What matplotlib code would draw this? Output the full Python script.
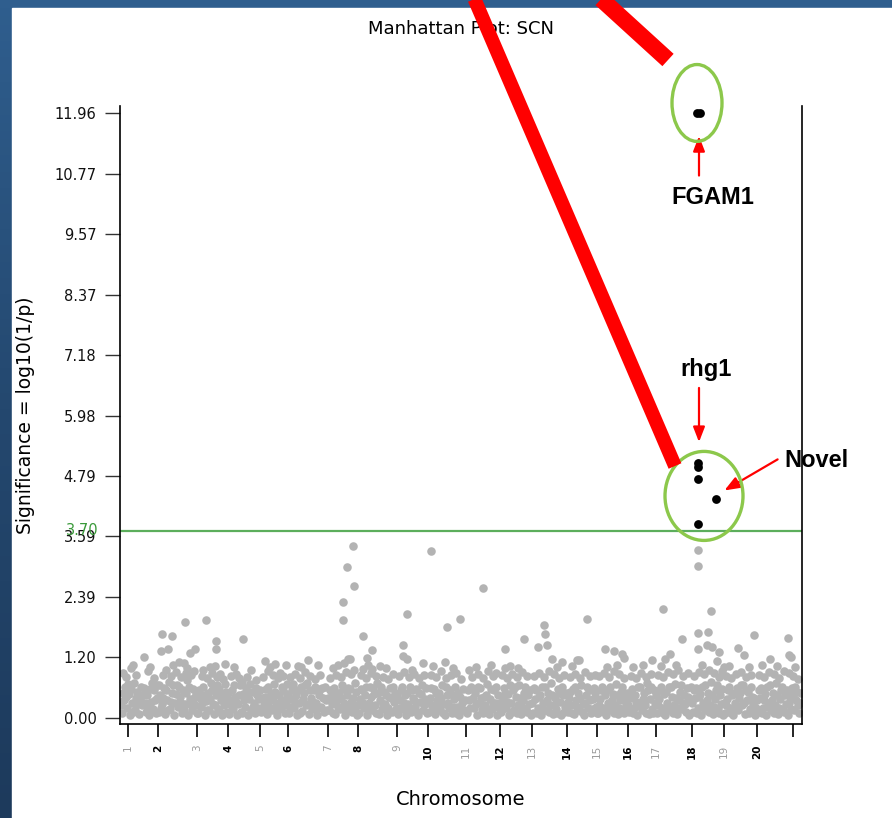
import numpy as np
import matplotlib.pyplot as plt
from matplotlib.patches import Ellipse, Rectangle
from matplotlib.lines import Line2D
from matplotlib.colors import LinearSegmentedColormap

# chromosome tick marks (genome position index), last one = end of chr 20
chrom_labels = [str(i) for i in range(1, 21)] + ['']
chrom_ticks = [8, 38, 77, 108, 140, 168, 208, 238, 277, 308, 346,
               380, 412, 447, 477, 508, 536, 572, 604, 637, 673]

y_ticks = [0.0, 1.196, 2.392, 3.588, 4.784, 5.98, 7.176, 8.372, 9.568, 10.764, 11.96]
y_labels = ['0.00', '1.20', '2.39', '3.59', '4.79', '5.98', '7.18', '8.37', '9.57', '10.77', '11.96']
threshold = 3.70

# (position, -log10 p) for the non significant markers, per chromosome
c01 = [(2, .10), (4, .35), (5, .62), (7, .20), (9, .48), (10, .05), (12, .30), (14, .70), (15, .15),
       (17, .52), (19, .08), (20, .38), (22, .25), (24, .60), (26, .12), (27, .45), (29, .05), (31, .32),
       (33, .18), (34, .55), (36, .10), (37, .40), (3, .88), (6, .80), (11, .98), (16, .85), (24, 1.21),
       (28, .92), (34, .78), (1, .25), (3, .50), (6, .42), (8, .68), (11, .58), (13, .12), (16, .40),
       (18, .28), (21, .62), (23, .45), (25, .30), (28, .20), (30, .58), (32, .70), (35, .35), (37, .65),
       (13, 1.05), (30, 1.00)]
c02 = [(39, .12), (40, .45), (42, .28), (44, .60), (45, .08), (47, .35), (49, .72), (50, .18), (52, .50),
       (54, .05), (55, .30), (57, .65), (58, .22), (60, .42), (62, .10), (63, .55), (65, .28), (67, .75),
       (68, .05), (70, .38), (72, .15), (73, .58), (75, .25), (76, .48), (43, .85), (46, .95), (51, .82),
       (56, .90), (61, .80), (66, .88), (71, .84), (74, .92), (41, 1.33), (42, 1.66), (48, 1.37),
       (52, 1.62), (65, 1.89), (64, 1.09), (67, .98), (70, 1.28), (75, 1.36), (39, .65), (41, .20),
       (43, .40), (46, .55), (48, .15), (51, .32), (53, .65), (56, .48), (59, .62), (61, .30), (64, .15),
       (66, .50), (69, .62), (71, .25), (74, .40), (77, .10), (53, 1.05), (59, 1.10)]
c03 = [(78, .10), (80, .40), (81, .22), (83, .62), (85, .05), (86, .33), (88, .50), (89, .15), (91, .70),
       (93, .28), (94, .08), (96, .45), (98, .18), (99, .58), (101, .35), (102, .05), (104, .25),
       (106, .52), (107, .12), (82, .82), (87, .78), (92, .88), (97, .80), (100, .86), (103, .76),
       (86, 1.94), (83, .95), (90, 1.00), (96, 1.53), (96, 1.37), (105, 1.07), (79, .55), (82, .30),
       (84, .45), (87, .15), (90, .38), (92, .55), (95, .25), (97, .65), (100, .12), (103, .48),
       (105, .68), (107, .40), (95, 1.02)]
c04 = [(109, .08), (110, .35), (112, .55), (113, .18), (115, .42), (117, .05), (118, .28), (120, .65),
       (121, .12), (123, .48), (125, .22), (126, .60), (128, .05), (129, .38), (131, .15), (132, .52),
       (134, .30), (135, .10), (137, .45), (138, .20), (111, .82), (116, .86), (119, .78), (122, .72),
       (127, .80), (136, .75), (123, 1.57), (108, .50), (111, .25), (114, .65), (116, .32), (119, .45),
       (122, .10), (124, .35), (127, .50), (130, .68), (133, .22), (136, .60), (139, .38), (114, 1.00),
       (131, .95)]
c05 = [(141, .12), (142, .40), (144, .25), (146, .58), (147, .08), (149, .33), (151, .50), (152, .15),
       (154, .68), (156, .28), (157, .05), (159, .45), (161, .20), (162, .62), (164, .35), (165, .10),
       (167, .48), (143, .80), (148, .92), (153, .85), (158, .78), (160, .88), (163, .82), (145, 1.12),
       (155, 1.07), (166, 1.05), (140, .55), (143, .18), (145, .42), (148, .62), (150, .20), (153, .40),
       (155, .52), (158, .15), (160, .32), (163, .55), (166, .25), (167, .68), (150, 1.00)]
c06 = [(169, .10), (171, .38), (172, .55), (174, .20), (176, .45), (177, .05), (179, .30), (181, .62),
       (182, .14), (184, .50), (186, .25), (187, .70), (189, .08), (191, .40), (192, .18), (194, .55),
       (196, .30), (197, .05), (199, .45), (201, .22), (202, .60), (204, .12), (206, .35), (170, .80),
       (175, .86), (180, .78), (185, .90), (190, .82), (195, .76), (200, .84), (181, 1.00), (188, 1.15),
       (168, .45), (170, .22), (173, .68), (175, .32), (178, .55), (180, .10), (183, .38), (185, .65),
       (188, .28), (190, .55), (193, .32), (195, .62), (198, .20), (200, .58), (203, .40), (205, .62),
       (207, .15), (178, 1.02), (198, 1.05)]
c07 = [(209, .15), (211, .42), (212, .28), (214, .60), (215, .08), (217, .35), (219, .50), (220, .18),
       (222, .65), (224, .30), (225, .05), (227, .45), (229, .22), (230, .58), (232, .12), (233, .40),
       (235, .70), (236, .25), (237, .05), (210, .78), (216, .84), (221, .80), (226, .90), (231, .86),
       (234, .95), (233, 3.40), (227, 2.98), (234, 2.60), (223, 2.30), (223, 1.94), (228, 1.16),
       (224, 1.08), (230, 1.16), (208, .40), (210, .55), (213, .10), (216, .50), (218, .22), (221, .40),
       (223, .58), (226, .15), (228, .60), (231, .32), (234, .18), (236, .52), (213, .98), (218, 1.05)]
c08 = [(239, .10), (240, .38), (242, .55), (244, .20), (245, .45), (247, .05), (249, .30), (250, .62),
       (252, .15), (254, .48), (255, .25), (257, .70), (259, .08), (260, .35), (262, .18), (264, .52),
       (265, .28), (267, .05), (269, .42), (270, .60), (272, .12), (274, .32), (275, .50), (241, .84),
       (246, .78), (251, .88), (256, .82), (263, .80), (268, .76), (273, .86), (243, 1.62), (252, 1.34),
       (247, 1.18), (260, 1.02), (243, .96), (252, .97), (238, .25), (241, .58), (243, .30), (246, .62),
       (248, .15), (251, .42), (253, .60), (256, .10), (258, .50), (261, .62), (263, .28), (266, .45),
       (268, .20), (271, .40), (273, .62), (276, .18), (248, 1.05), (266, .98)]
c09 = [(278, .08), (280, .35), (281, .55), (283, .18), (285, .45), (286, .05), (288, .28), (290, .62),
       (291, .12), (293, .40), (295, .22), (296, .58), (298, .05), (300, .32), (301, .48), (303, .15),
       (305, .38), (306, .60), (279, .82), (284, .90), (289, .80), (294, .86), (299, .78), (304, .84),
       (287, 2.06), (283, 1.44), (283, 1.23), (287, 1.16), (303, 1.08), (277, .45), (279, .20),
       (282, .62), (284, .30), (287, .50), (289, .15), (292, .55), (294, .35), (297, .12), (299, .50),
       (302, .65), (304, .25), (307, .10), (292, .95)]
c10 = [(309, .12), (310, .40), (312, .25), (314, .58), (315, .08), (317, .35), (319, .50), (320, .15),
       (322, .65), (324, .28), (325, .05), (327, .45), (329, .20), (330, .55), (332, .10), (334, .38),
       (335, .62), (337, .22), (339, .05), (340, .42), (342, .30), (344, .15), (311, .85), (316, .80),
       (321, .92), (326, .78), (331, .84), (336, .88), (341, .76), (311, 3.31), (327, 1.79), (325, 1.11),
       (340, 1.96), (308, .30), (311, .60), (313, .18), (316, .50), (318, .25), (321, .40), (323, .10),
       (326, .62), (328, .30), (331, .48), (333, .22), (336, .10), (338, .50), (341, .15), (343, .58),
       (345, .35), (313, 1.02), (333, .98)]
c11 = [(347, .10), (349, .35), (354, .20), (355, .50), (357, .05), (359, .30), (360, .60), (362, .15),
       (364, .42), (365, .25), (367, .68), (369, .08), (370, .38), (372, .18), (374, .55), (375, .30),
       (377, .05), (378, .45), (352, .80), (358, .86), (363, .78), (368, .92), (373, .82), (376, .88),
       (349, .94), (363, 2.56), (348, .55), (350, .20), (351, .62), (353, .40), (356, .28), (358, .62),
       (361, .40), (363, .10), (366, .45), (368, .18), (371, .58), (373, .30), (376, .62), (379, .20),
       (356, 1.00), (371, 1.05)]
c12 = [(381, .12), (383, .40), (384, .60), (386, .20), (388, .48), (389, .05), (391, .30), (393, .55),
       (394, .15), (396, .42), (398, .25), (399, .65), (401, .08), (403, .35), (404, .50), (406, .18),
       (408, .45), (409, .28), (411, .05), (382, .84), (387, .78), (392, .86), (397, .80), (402, .90),
       (407, .82), (385, 1.36), (385, .99), (398, .99), (404, 1.57), (380, .30), (382, .18), (385, .50),
       (387, .32), (390, .65), (392, .12), (395, .62), (397, .10), (400, .40), (402, .22), (405, .62),
       (407, .12), (410, .55), (390, 1.02)]
c13 = [(413, .10), (415, .38), (416, .55), (418, .20), (420, .45), (421, .05), (423, .30), (425, .62),
       (426, .15), (428, .50), (430, .25), (431, .70), (433, .08), (435, .40), (436, .18), (438, .58),
       (440, .32), (441, .05), (443, .45), (445, .22), (414, .82), (419, .88), (424, .80), (429, .92),
       (434, .86), (439, .78), (444, .84), (418, 1.41), (427, 1.44), (424, 1.84), (425, 1.66),
       (432, 1.16), (442, 1.11), (412, .30), (414, .60), (417, .10), (419, .42), (422, .62), (424, .15),
       (427, .35), (429, .12), (432, .45), (434, .25), (437, .10), (439, .50), (442, .62), (444, .12),
       (446, .50), (437, 1.00)]
c14 = [(448, .12), (449, .40), (451, .25), (453, .58), (454, .08), (456, .35), (458, .50), (459, .15),
       (461, .65), (463, .28), (464, .05), (466, .45), (468, .20), (469, .55), (471, .10), (473, .38),
       (474, .60), (476, .22), (450, .80), (455, .86), (460, .78), (465, .90), (470, .82), (475, .84),
       (457, 1.14), (467, 1.96), (459, 1.15), (447, .30), (450, .52), (452, .10), (455, .62), (457, .22),
       (460, .40), (462, .12), (465, .30), (467, .62), (470, .35), (472, .18), (475, .50), (477, .10),
       (452, 1.02)]
c15 = [(478, .10), (480, .38), (481, .55), (483, .20), (485, .45), (486, .05), (488, .30), (490, .62),
       (491, .15), (493, .48), (495, .25), (496, .68), (498, .08), (500, .35), (501, .52), (503, .18),
       (505, .42), (506, .28), (479, .82), (484, .88), (489, .80), (494, .92), (499, .86), (504, .78),
       (485, 1.36), (494, 1.33), (502, 1.26), (504, 1.18), (479, .25), (482, .62), (484, .12), (487, .55),
       (489, .18), (492, .35), (494, .10), (497, .45), (499, .20), (502, .62), (504, .10), (507, .50),
       (487, 1.00), (497, 1.05)]
c16 = [(509, .12), (510, .40), (512, .58), (514, .20), (515, .45), (517, .05), (519, .30), (520, .62),
       (522, .15), (524, .50), (525, .25), (527, .70), (529, .08), (530, .38), (532, .18), (534, .55),
       (535, .30), (511, .82), (516, .78), (521, .88), (526, .80), (531, .86), (532, 1.15), (508, .25),
       (511, .50), (513, .10), (516, .32), (518, .62), (521, .22), (523, .38), (526, .10), (528, .55),
       (531, .62), (533, .10), (536, .45), (513, 1.00), (523, 1.05)]
c17 = [(537, .10), (539, .38), (540, .55), (542, .20), (544, .48), (545, .05), (547, .30), (549, .62),
       (550, .15), (552, .42), (554, .25), (555, .68), (557, .08), (559, .35), (560, .52), (562, .18),
       (564, .45), (565, .28), (567, .60), (569, .05), (570, .38), (538, .84), (543, .80), (548, .90),
       (553, .86), (558, .94), (563, .82), (568, .88), (543, 2.15), (545, 1.16), (550, 1.26), (562, 1.57),
       (538, .25), (541, .62), (543, .10), (546, .52), (548, .22), (551, .62), (553, .10), (556, .40),
       (558, .20), (561, .65), (563, .30), (566, .12), (568, .42), (571, .62), (541, 1.02), (556, 1.05)]
c18 = [(573, .12), (575, .40), (576, .60), (578, .20), (580, .48), (581, .05), (583, .30), (585, .65),
       (586, .15), (588, .50), (590, .25), (591, .72), (593, .08), (595, .38), (596, .55), (598, .18),
       (600, .45), (601, .28), (603, .05), (574, .82), (579, .90), (584, .86), (589, .95), (594, .88),
       (599, .80), (602, .92), (578, 3.32), (578, 3.01), (578, 1.67), (578, 1.36), (588, 1.69),
       (587, 1.44), (592, 1.41), (591, 2.11), (599, 1.30), (597, 1.12), (572, .30), (574, .55),
       (577, .10), (579, .42), (582, .62), (584, .20), (587, .35), (589, .12), (592, .45), (594, .22),
       (597, .65), (599, .10), (602, .58), (604, .30), (582, 1.05), (604, 1.00)]
c19 = [(605, .10), (607, .38), (608, .55), (610, .20), (612, .45), (613, .05), (615, .30), (617, .60),
       (618, .15), (620, .50), (622, .25), (623, .65), (625, .08), (627, .35), (628, .52), (630, .18),
       (632, .42), (633, .28), (635, .05), (606, .82), (611, .78), (616, .86), (621, .90), (626, .80),
       (631, .84), (618, 1.38), (624, 1.25), (634, 1.63), (606, .25), (609, .62), (611, .10), (614, .50),
       (616, .18), (619, .40), (621, .65), (624, .30), (626, .55), (629, .10), (631, .62), (634, .40),
       (636, .20), (609, 1.02), (629, 1.00)]
c20 = [(638, .12), (640, .40), (641, .60), (643, .20), (645, .48), (646, .05), (648, .30), (650, .65),
       (651, .15), (653, .50), (655, .25), (656, .70), (658, .08), (660, .38), (661, .55), (663, .18),
       (665, .45), (666, .28), (668, .05), (670, .42), (672, .60), (674, .15), (676, .35), (677, .52),
       (679, .10), (680, .30), (639, .84), (644, .80), (649, .90), (654, .86), (659, .78), (664, .92),
       (669, .88), (673, .82), (678, .76), (650, 1.17), (668, 1.59), (669, 1.24), (671, 1.20),
       (637, .35), (639, .55), (642, .10), (644, .35), (647, .62), (649, .22), (652, .35), (654, .10),
       (657, .45), (659, .20), (662, .62), (664, .12), (667, .55), (669, .30), (671, .18), (673, .45),
       (675, .62), (678, .25), (681, .50), (642, 1.05), (657, 1.02), (675, 1.00)]

# significant markers (above threshold)
hit_pos = [577, 580, 578, 578, 578, 596, 578]
hit_val = [11.96, 11.96, 5.04, 4.96, 4.72, 4.33, 3.83]

gray = np.array(c01 + c02 + c03 + c04 + c05 + c06 + c07 + c08 + c09 + c10 +
                c11 + c12 + c13 + c14 + c15 + c16 + c17 + c18 + c19 + c20)

W, H = 892, 818
fig = plt.figure(figsize=(W / 100, H / 100), dpi=100)

# slide background: blue frame with white panel
bg = fig.add_axes([0, 0, 1, 1], zorder=-10)
bg.axis('off')
cmap = LinearSegmentedColormap.from_list('slide', ['#2f5e8e', '#24486f', '#1d3a5c'])
bg.imshow(np.linspace(0, 1, 100).reshape(-1, 1), aspect='auto', cmap=cmap, extent=[0, 1, 0, 1])
bg.add_patch(Rectangle((12 / W, 0), 1, 1 - 8 / H, color='white', transform=bg.transAxes))
bg.set_xlim(0, 1)
bg.set_ylim(0, 1)

ax = fig.add_axes([120 / W, 1 - 724 / H, 682 / W, 618 / H])
ax.scatter(gray[:, 0], gray[:, 1], s=38, color='#b3b3b3', linewidths=0, zorder=2)
ax.scatter(hit_pos, hit_val, s=40, color='black', linewidths=0, zorder=3, clip_on=False)
ax.axhline(threshold, color='#5cae5c', lw=1.6, zorder=1)

ax.set_xlim(0, 682)
ax.set_ylim(-0.12, 12.10)
ax.spines['top'].set_visible(False)
for s in ['left', 'right', 'bottom']:
    ax.spines[s].set_linewidth(1.2)

ax.set_yticks(y_ticks)
ax.set_yticklabels(y_labels, fontsize=10.5, color='#111111')
ax.tick_params(axis='y', length=11, width=1.0, pad=6, color='#333333')
ax.text(-0.031, threshold, '3.70', transform=ax.get_yaxis_transform(), ha='right', va='center',
        fontsize=10.5, color='#3a9a3a')

ax.set_xticks(chrom_ticks)
ax.set_xticklabels(chrom_labels, rotation=90, fontsize=7.5)
ax.tick_params(axis='x', length=9, width=1.2, pad=6)
for i, (lab, tl) in enumerate(zip(ax.get_xticklabels(), ax.xaxis.get_major_ticks())):
    if i % 2 == 0 and i < 20:
        lab.set_color('#9a9a9a')
        tl.tick1line.set_color('#9a9a9a')
    else:
        lab.set_color('black')
        lab.set_fontweight('bold')

ax.set_title('Manhattan Plot: SCN', fontsize=13, pad=52)
ax.set_ylabel('Significance = log10(1/p)', fontsize=13.5, labelpad=14)
ax.set_xlabel('Chromosome', fontsize=14, labelpad=22)

# slide annotations
ann = dict(fontsize=17, fontweight='bold', family='Liberation Sans', color='black')
red = '#ff0000'
ax.add_patch(Ellipse((577, 12.16), 50, 1.52, fill=False, ec='#8cc84b', lw=2.4, clip_on=False, zorder=4))
ax.add_patch(Ellipse((584, 4.39), 78, 1.76, fill=False, ec='#8cc84b', lw=2.4, clip_on=False, zorder=4))
arrow = dict(arrowstyle='-|>,head_length=0.9,head_width=0.35', color=red, lw=1.6)
ax.annotate('', xy=(579, 11.56), xytext=(579, 10.67), arrowprops=arrow, annotation_clip=False)
ax.text(593, 10.30, 'FGAM1', ha='center', va='center', **ann)
ax.annotate('', xy=(579, 5.40), xytext=(579, 6.58), arrowprops=arrow, annotation_clip=False)
ax.text(586, 6.88, 'rhg1', ha='center', va='center', **ann)
ax.annotate('', xy=(602, 4.47), xytext=(660, 5.14), arrowprops=arrow, annotation_clip=False)
ax.text(664, 5.10, 'Novel', ha='left', va='center', **ann)

# thick red pointer lines running off the top of the slide
fig.add_artist(Line2D([474 / W, 675 / W], [1 + 2 / H, 1 - 466 / H], color=red, lw=10,
                      solid_capstyle='butt', zorder=20))
fig.add_artist(Line2D([600 / W, 668 / W], [1 + 2 / H, 1 - 60 / H], color=red, lw=12,
                      solid_capstyle='butt', zorder=20))

fig.savefig('out.png', dpi=100)
